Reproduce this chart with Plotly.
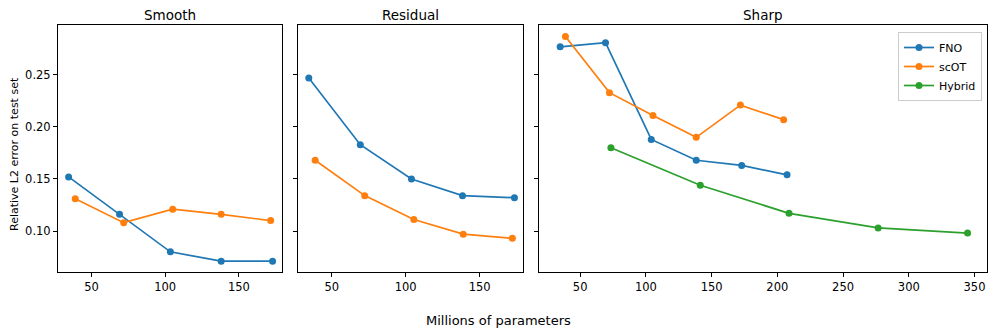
import plotly.graph_objects as go
from plotly.subplots import make_subplots

# data
panels = ["Smooth", "Residual", "Sharp"]
models = ["FNO", "scOT", "Hybrid"]
colors = ["#1f77b4", "#ff7f0e", "#2ca02c"]

smooth_fno_x = [34.4, 69.0, 103.5, 138.0, 172.9]
smooth_fno_y = [0.152, 0.116, 0.080, 0.071, 0.071]
smooth_scot_x = [38.9, 71.8, 105.1, 138.0, 171.6]
smooth_scot_y = [0.131, 0.108, 0.121, 0.116, 0.110]

residual_fno_x = [34.5, 69.3, 103.9, 138.4, 173.5]
residual_fno_y = [0.247, 0.183, 0.150, 0.134, 0.132]
residual_scot_x = [38.8, 72.3, 105.5, 138.9, 172.1]
residual_scot_y = [0.168, 0.134, 0.111, 0.097, 0.093]

sharp_fno_x = [34.8, 69.3, 104.1, 138.3, 172.9, 207.4]
sharp_fno_y = [0.277, 0.281, 0.188, 0.168, 0.163, 0.154]
sharp_scot_x = [38.8, 72.3, 105.4, 138.3, 171.9, 204.8]
sharp_scot_y = [0.287, 0.233, 0.211, 0.190, 0.221, 0.207]
sharp_hybrid_x = [73.4, 141.4, 208.9, 276.7, 344.7]
sharp_hybrid_y = [0.180, 0.144, 0.117, 0.103, 0.098]

y_ticks = [0.10, 0.15, 0.20, 0.25]

# the page body adds 8px around the figure, so shrink the figure to fit
OFF = 8
W, H = 996 - OFF, 336 - OFF
ML, MT = 58 - OFF, 25 - OFF
MR = W - (987 - OFF)
MB = H - (272 - OFF)
PW = W - ML - MR
PH = H - MT - MB


def px(x):
    # reference-pixel x -> paper fraction
    return (x - OFF - ML) / PW


def py(y):
    return 1 - (y - OFF - MT) / PH


series = [
    (1, 0, smooth_fno_x, smooth_fno_y),
    (1, 1, smooth_scot_x, smooth_scot_y),
    (2, 0, residual_fno_x, residual_fno_y),
    (2, 1, residual_scot_x, residual_scot_y),
    (3, 0, sharp_fno_x, sharp_fno_y),
    (3, 1, sharp_scot_x, sharp_scot_y),
    (3, 2, sharp_hybrid_x, sharp_hybrid_y),
]

fig = make_subplots(rows=1, cols=3, shared_yaxes=True)

for col, m, xs, ys in series:
    fig.add_trace(go.Scatter(
        x=xs, y=ys, mode="lines+markers", name=models[m],
        line=dict(color=colors[m], width=1.7),
        marker=dict(color=colors[m], size=7),
        showlegend=(col == 3),
    ), row=1, col=col)

# panel placement in reference pixels
domains = [(58, 282), (298, 523), (539, 987)]
xranges = [[27.2, 179.3], [27.2, 179.3], [18.7, 359.5]]

axis_style = dict(
    showline=True, linecolor="black", linewidth=1, mirror=True,
    ticks="outside", ticklen=4, tickwidth=1, tickcolor="black",
    showgrid=False, zeroline=False,
    tickfont=dict(size=11.5, color="black"),
)

for i, (a, b) in enumerate(domains):
    sfx = "" if i == 0 else str(i + 1)
    fig.layout["xaxis" + sfx].update(
        domain=[px(a), px(b)],
        range=xranges[i], dtick=50, tick0=0, **axis_style)
    fig.layout["yaxis" + sfx].update(
        range=[0.0606, 0.298], tickvals=y_ticks,
        ticktext=["%.2f" % v for v in y_ticks],
        showticklabels=(i == 0), **axis_style)
    fig.add_annotation(
        x=px((a + b) / 2), y=py(15), xref="paper", yref="paper",
        text=panels[i], showarrow=False, xanchor="center", yanchor="middle",
        borderpad=0, font=dict(size=13.5, color="black"))

fig.add_annotation(
    x=px(14), y=py(154), xref="paper", yref="paper",
    text="Relative L2 error on test set", textangle=-90, showarrow=False,
    xanchor="center", yanchor="middle", font=dict(size=11, color="black"))

fig.add_annotation(
    x=px(498), y=py(320), xref="paper", yref="paper",
    text="Millions of parameters", showarrow=False,
    xanchor="center", yanchor="middle", font=dict(size=13, color="black"))

fig.update_layout(
    width=W, height=H,
    margin=dict(l=ML, r=MR, t=MT, b=MB),
    plot_bgcolor="white", paper_bgcolor="white",
    font=dict(family="DejaVu Sans", color="black"),
    legend=dict(
        x=px(982), y=py(32),
        xanchor="right", yanchor="top",
        bgcolor="rgba(255,255,255,0.8)", bordercolor="#cccccc", borderwidth=1,
        font=dict(size=11, color="black"), itemwidth=30,
        tracegroupgap=0,
    ),
)

fig.write_html("out.html")
